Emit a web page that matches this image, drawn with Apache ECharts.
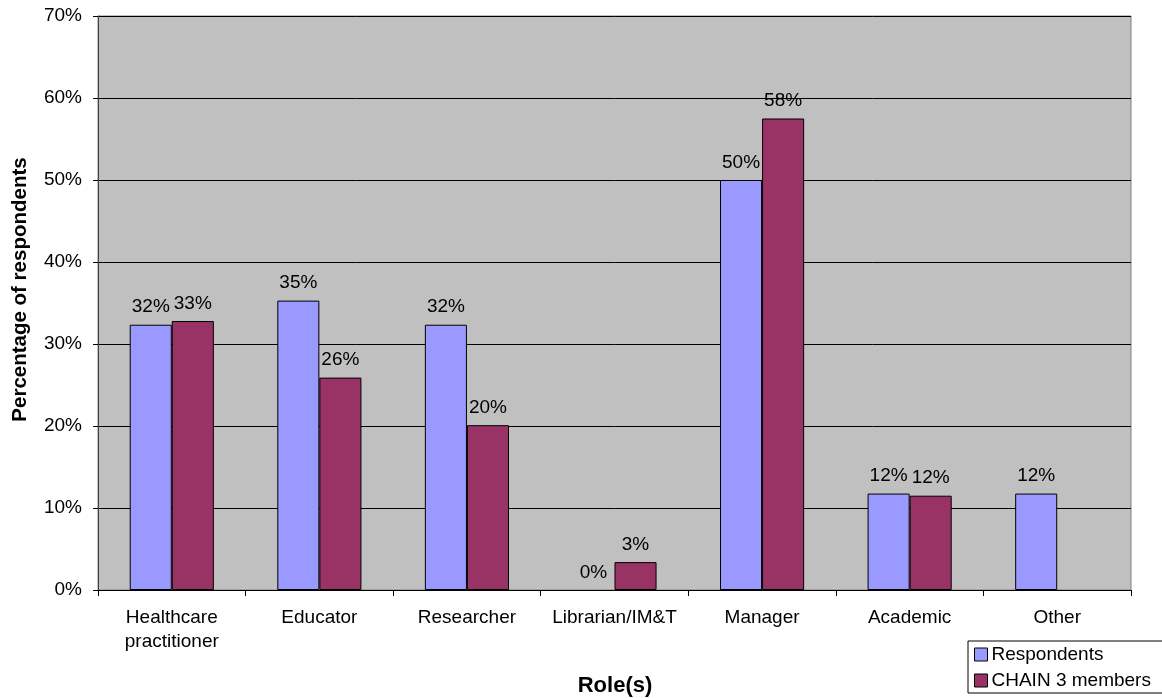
<!DOCTYPE html>
<html>
<head>
<meta charset="utf-8">
<script src="https://cdn.jsdelivr.net/npm/echarts@6/dist/echarts.min.js"></script>
<style>
  html, body { margin: 0; padding: 0; background: #fff; }
  #main { width: 1162px; height: 698px; }
</style>
</head>
<body>
<div id="main"></div>
<script>
// roles on the x axis
var roles = ['Healthcare\npractitioner', 'Educator', 'Researcher', 'Librarian/IM&T', 'Manager', 'Academic', 'Other'];
// percentages
var respondents = [32.35, 35.29, 32.35, 0, 50.0, 11.76, 11.76];
var chainMembers = [32.8, 25.9, 20.1, 3.4, 57.5, 11.5, null];
var yTicks = [0, 10, 20, 30, 40, 50, 60, 70];

var font = 'Arial, "Liberation Sans", sans-serif';

var myChart = echarts.init(document.getElementById('main'));

var barLabel = {
  show: true,
  position: 'top',
  distance: 8,
  color: '#000',
  fontFamily: font,
  fontSize: 19,
  formatter: function (p) { return Math.round(p.value) + '%'; }
};

// a zero bar has no outline in the original
function toItems(arr) {
  return arr.map(function (v) {
    if (v === 0) return { value: v, itemStyle: { borderWidth: 0 } };
    return v;
  });
}

var option = {
  animation: false,
  backgroundColor: '#fff',
  textStyle: { fontFamily: font },
  title: {
    text: 'Role(s)',
    left: 615,
    top: 675,
    padding: 0,
    textAlign: 'center',
    textStyle: { fontFamily: font, fontSize: 22, fontWeight: 'bold', color: '#000' }
  },
  legend: {
    orient: 'vertical',
    left: 968,
    top: 641,
    itemWidth: 13,
    itemHeight: 13,
    itemGap: 7,
    padding: [4, 12, 3, 6],
    borderColor: '#000',
    borderWidth: 1,
    backgroundColor: '#fff',
    icon: 'rect',
    textStyle: { fontFamily: font, fontSize: 19, color: '#000', padding: [0, 0, 0, -1] },
    data: [
      { name: 'Respondents', itemStyle: { color: '#9999FF', borderColor: '#000', borderWidth: 1 } },
      { name: 'CHAIN 3 members', itemStyle: { color: '#993366', borderColor: '#000', borderWidth: 1 } }
    ]
  },
  grid: {
    left: 98,
    right: 31,
    top: 16,
    bottom: 108,
    show: true,
    backgroundColor: '#C0C0C0',
    borderColor: '#808080',
    borderWidth: 1
  },
  xAxis: {
    type: 'category',
    data: roles,
    axisLine: { lineStyle: { color: '#000', width: 1 } },
    axisTick: { show: true, length: 6, lineStyle: { color: '#000' } },
    axisLabel: { color: '#000', fontSize: 19, fontFamily: font, margin: 16, lineHeight: 24, interval: 0 },
    splitLine: { show: false }
  },
  yAxis: {
    type: 'value',
    min: yTicks[0],
    max: yTicks[yTicks.length - 1],
    interval: 10,
    name: 'Percentage of respondents',
    nameLocation: 'middle',
    nameGap: 67,
    nameTextStyle: { fontFamily: font, fontSize: 20.5, fontWeight: 'bold', color: '#000', padding: [0, 0, 0, 27] },
    axisLine: { show: true, lineStyle: { color: '#404040', width: 1 } },
    axisTick: { show: true, length: 5, lineStyle: { color: '#000' } },
    axisLabel: { color: '#000', fontSize: 19, fontFamily: font, margin: 16, formatter: '{value}%' },
    splitLine: { show: true, lineStyle: { color: '#000', width: 1 } }
  },
  series: [
    {
      name: 'Respondents',
      type: 'bar',
      data: toItems(respondents),
      barGap: '0%',
      barCategoryGap: '43%',
      itemStyle: { color: '#9999FF', borderColor: '#000', borderWidth: 1 },
      label: barLabel
    },
    {
      name: 'CHAIN 3 members',
      type: 'bar',
      data: toItems(chainMembers),
      itemStyle: { color: '#993366', borderColor: '#000', borderWidth: 1 },
      label: barLabel
    }
  ]
};

myChart.setOption(option);
</script>
</body>
</html>
